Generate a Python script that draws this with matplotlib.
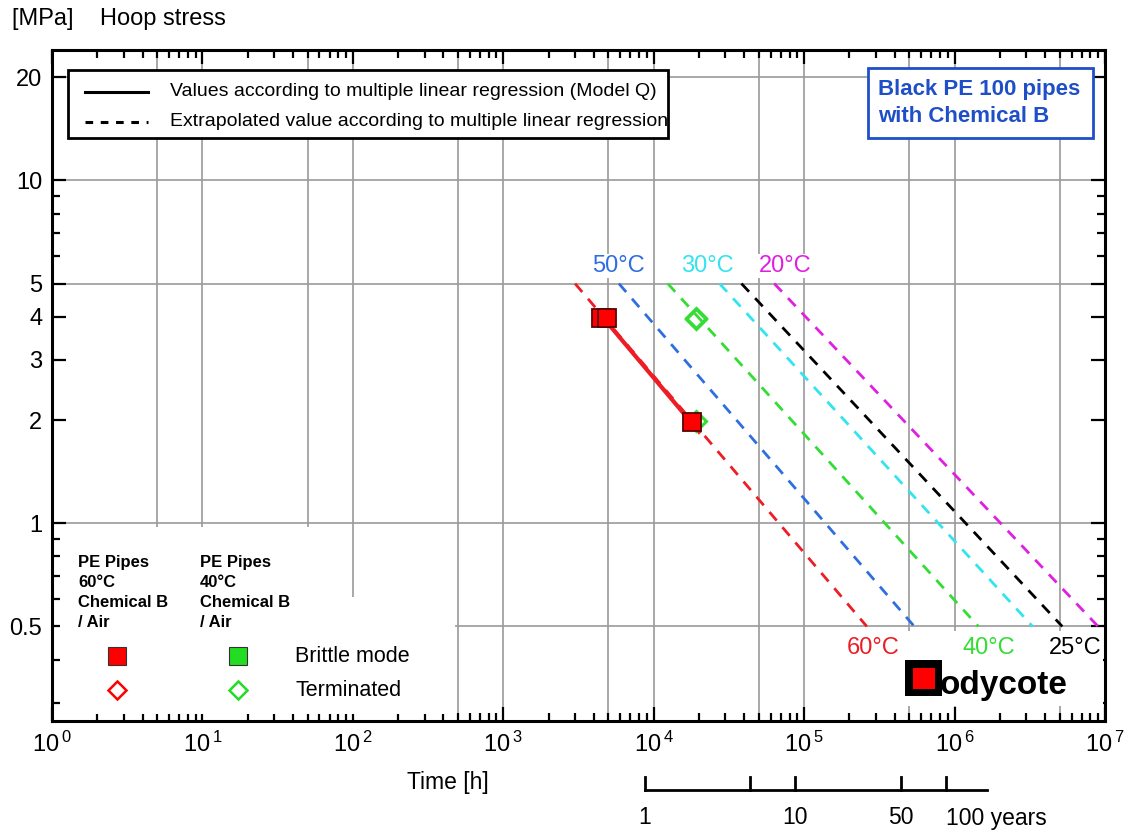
import numpy as np
import matplotlib
matplotlib.use("Agg")
import matplotlib.pyplot as plt
from matplotlib.patches import Rectangle
from matplotlib.lines import Line2D
from matplotlib.ticker import FixedLocator, FuncFormatter, NullFormatter

plt.rcParams['font.family'] = ['Liberation Sans', 'DejaVu Sans']
plt.rcParams['mathtext.fontset'] = 'custom'
plt.rcParams['mathtext.rm'] = 'Liberation Sans'

# regression lines: time [h] at 5 MPa and at 0.5 MPa
temps = ['60°C', '50°C', '40°C', '30°C', '25°C', '20°C']
colors = ['#ee1c24', '#2f6ee0', '#33dd33', '#33e4ee', '#000000', '#e020e0']
t_start = [3000, 5870, 12400, 27400, 38300, 63300]
t_end = [2.61e5, 5.4e5, 1.44e6, 3.3e6, 5.2e6, 9.0e6]
s_start = 5.0
s_end = 0.5

# measured points, 60 C brittle (red) and 40 C terminated (green)
red_t = [4450, 4900, 18100]
red_s = [3.98, 3.98, 1.97]
green_t = [18970, 19200, 18970]
green_s = [3.98, 3.94, 1.99]

# solid part of 60 C regression
solid_t = [4600, 20000]
solid_s = [3.98, 1.85]

years = [1, 5, 10, 50, 100]
year_labels = ['1', '', '10', '50', '100 years']

fig = plt.figure(figsize=(11.36, 8.34), dpi=100)
W, H = 1136, 834
x0, x1, y0, y1 = 52, 1105, 50, 721
ax = fig.add_axes([x0 / W, 1 - y1 / H, (x1 - x0) / W, (y1 - y0) / H])
ax.set_xscale('log')
ax.set_yscale('log')
ax.set_xlim(1, 1e7)
ax.set_ylim(0.265, 24)


def axf(px, py):
    return (px - x0) / (x1 - x0), (y1 - py) / (y1 - y0)


# grid
for k in range(7):
    for m in (1, 5):
        if k == 0 and m == 1:
            continue
        ax.axvline(m * 10 ** k, color='#9a9a9a', lw=1.2, zorder=1)
for v in (0.5, 1, 5, 10, 20):
    ax.axhline(v, color='#9a9a9a', lw=1.2, zorder=1)

# white areas behind texts
for (px0, py0, px1, py1) in [(60, 527, 345, 714), (290, 597, 455, 714),
                             (845, 631, 1103, 706)]:
    a0 = axf(px0, py1)
    a1 = axf(px1, py0)
    ax.add_patch(Rectangle(a0, a1[0] - a0[0], a1[1] - a0[1], transform=ax.transAxes,
                           facecolor='white', edgecolor='none', zorder=2))

# regression lines
for ts, te, c in zip(t_start, t_end, colors):
    ax.plot([ts, te], [s_start, s_end], color=c, lw=2.0, ls=(0, (4, 3.2)), zorder=3)
ax.plot(solid_t, solid_s, color='#ee1c24', lw=3.0, zorder=4)

ax.plot(green_t, green_s, ls='none', marker='D', ms=10, mfc='none', mec='#33dd33',
        mew=2.2, zorder=5)
ax.plot(red_t, red_s, ls='none', marker='s', ms=12.5, mfc='#ff0000', mec='#5a0000',
        mew=1.3, zorder=6)

# temperature labels
lab_pos = {'50°C': (5870, 5.62), '30°C': (22800, 5.62), '20°C': (74800, 5.62),
           '60°C': (2.87e5, 0.434), '40°C': (1.68e6, 0.434), '25°C': (6.3e6, 0.434)}
for t, c in zip(temps, colors):
    x, y = lab_pos[t]
    ax.text(x, y, t, color=c, fontsize=17, ha='center', va='center', zorder=7,
            bbox=dict(facecolor='white', edgecolor='none', pad=0.5))

# axes styling
for sp in ax.spines.values():
    sp.set_linewidth(2.2)
    sp.set_zorder(10)
ax.tick_params(which='both', direction='in', top=True, right=True, width=1.6)
ax.tick_params(which='major', length=10, labelsize=17, pad=8)
ax.tick_params(which='minor', length=5.5)
ax.xaxis.set_major_locator(FixedLocator([10.0 ** k for k in range(8)]))
ax.xaxis.set_minor_locator(FixedLocator([m * 10.0 ** k for k in range(7) for m in range(2, 10)]))
ax.xaxis.set_major_formatter(FuncFormatter(lambda v, p: r'$\mathregular{10^{\,%d}}$' % round(np.log10(v))))
ax.xaxis.set_minor_formatter(NullFormatter())
yt = [0.5, 1, 2, 3, 4, 5, 10, 20]
ax.yaxis.set_major_locator(FixedLocator(yt))
ax.yaxis.set_minor_locator(FixedLocator([0.3, 0.4, 0.6, 0.7, 0.8, 0.9, 6, 7, 8, 9]))
ax.yaxis.set_major_formatter(FuncFormatter(lambda v, p: ('%g' % v)))
ax.yaxis.set_minor_formatter(NullFormatter())
ax.tick_params(axis='y', which='major', labelsize=17, pad=7)

fig.text(12 / W, 1 - 19 / H, '[MPa]    Hoop stress', fontsize=17, va='center', ha='left')
fig.text(448 / W, 1 - 782 / H, 'Time [h]', fontsize=16.5, va='center', ha='center')

# top-left legend
a0 = axf(68, 138)
a1 = axf(668, 70)
ax.add_patch(Rectangle(a0, a1[0] - a0[0], a1[1] - a0[1], transform=ax.transAxes,
                       facecolor='white', edgecolor='black', lw=2, zorder=8))
for py, ls, txt in [(92, '-', 'Values according to multiple linear regression (Model Q)'),
                    (122, (0, (2.5, 2.5)), 'Extrapolated value according to multiple linear regression')]:
    la = axf(85, py)
    lb = axf(148, py)
    ax.add_line(Line2D([la[0], lb[0]], [la[1], lb[1]], transform=ax.transAxes, color='black',
                       lw=2.2, ls=ls, zorder=9))
    tp = axf(170, py)
    ax.text(tp[0], tp[1], txt, transform=ax.transAxes, fontsize=14, va='center', zorder=9)

# top-right note
a0 = axf(868, 138)
a1 = axf(1093, 68)
ax.add_patch(Rectangle(a0, a1[0] - a0[0], a1[1] - a0[1], transform=ax.transAxes,
                       facecolor='white', edgecolor='#1f4fc8', lw=2, zorder=8))
tp = axf(878, 103)
ax.text(tp[0], tp[1], 'Black PE 100 pipes\nwith Chemical B', transform=ax.transAxes,
        fontsize=16, color='#1f4fc8', fontweight='bold',
        va='center', ha='left', linespacing=1.4, zorder=9)

# bottom-left legend
for px, txt in [(78, 'PE Pipes\n60°C\nChemical B\n/ Air'), (200, 'PE Pipes\n40°C\nChemical B\n/ Air')]:
    tp = axf(px, 555)
    ax.text(tp[0], tp[1], txt, transform=ax.transAxes, fontsize=12, fontweight='bold',
            va='top', ha='left', linespacing=1.42, zorder=9)
for px, c in [(117, '#ff0000'), (238, '#22dd22')]:
    p = axf(px, 656)
    ax.plot([p[0]], [p[1]], transform=ax.transAxes, marker='s', ms=13, mfc=c, mec='#333333',
            mew=0.8, ls='none', zorder=9, clip_on=False)
    p = axf(px, 690)
    ax.plot([p[0]], [p[1]], transform=ax.transAxes, marker='D', ms=9.5, mfc='none', mec=c,
            mew=1.8, ls='none', zorder=9, clip_on=False)
for py, txt in [(657, 'Brittle mode'), (690, 'Terminated')]:
    tp = axf(295, py)
    ax.text(tp[0], tp[1], txt, transform=ax.transAxes, fontsize=15.5,
            va='center', ha='left', zorder=9)

# logo
a0 = axf(905, 696)
ax.add_patch(Rectangle(a0, 37 / (x1 - x0), 36 / (y1 - y0), transform=ax.transAxes,
                       facecolor='black', edgecolor='none', zorder=9))
a0 = axf(913, 689)
ax.add_patch(Rectangle(a0, 22 / (x1 - x0), 21 / (y1 - y0), transform=ax.transAxes,
                       facecolor='#ff0000', edgecolor='none', zorder=10))
tp = axf(940, 694)
ax.text(tp[0], tp[1], 'odycote', transform=ax.transAxes, fontsize=24, fontweight='bold',
        va='baseline', ha='left', zorder=10)

# years scale below the time axis
sy = (y1 - 790) / (y1 - y0)
tick_top = (y1 - 777) / (y1 - y0)
yrs_h = [y * 8760 for y in years]
ax.plot([yrs_h[0], 1.65e6], [sy, sy], transform=ax.get_xaxis_transform(), color='black',
        lw=2, clip_on=False)
for h, lab in zip(yrs_h, year_labels):
    ax.plot([h, h], [sy, tick_top], transform=ax.get_xaxis_transform(), color='black',
            lw=2, clip_on=False)
    if lab:
        ax.text(h, (y1 - 818) / (y1 - y0), lab, transform=ax.get_xaxis_transform(),
                fontsize=16.5, ha='left' if lab.startswith('100') else 'center', va='center')

fig.savefig('out.png', dpi=100)
